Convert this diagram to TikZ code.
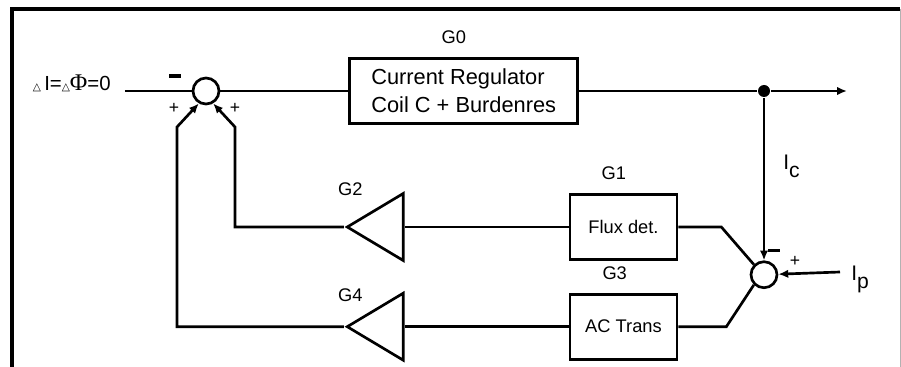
\documentclass[tikz,border=0pt]{standalone}
\usepackage{fontspec}
\setmainfont{Liberation Sans}
\newfontfamily\symfont{DejaVu Sans}
\newfontfamily\phifont{Liberation Serif}
\usetikzlibrary{positioning,shapes.geometric,arrows.meta,calc}

\newcommand{\smalltri}{{\symfont\fontsize{7.5}{7.5}\selectfont △}}
\newcommand{\idx}[1]{\raisebox{-0.38em}{#1}}

\begin{document}
\begin{tikzpicture}[
  x=0.025cm, y=-0.025cm, line width=1.9pt,
  blk/.style={rectangle, draw, inner sep=0pt, align=center,
              font=\fontsize{13}{15}\selectfont},
  sumnode/.style={circle, draw, minimum size=0.65cm, inner sep=0pt},
  amp/.style={isosceles triangle, draw, shape border rotate=180,
              isosceles triangle stretches, minimum width=1.675cm,
              minimum height=1.4cm, inner sep=0pt},
  dot/.style={circle, fill, minimum size=0.3cm, inner sep=0pt},
  glbl/.style={inner sep=0pt, font=\fontsize{13}{15}\selectfont},
  txt/.style={inner sep=0pt, font=\fontsize{15}{18}\selectfont},
  sgn/.style={inner sep=0pt, font=\fontsize{12.5}{14}\selectfont},
  neg/.style={fill, minimum width=0.28cm, minimum height=0.08cm, inner sep=0pt},
  arr/.style={-{Latex[length=7pt,width=6pt]}}
]
\useasboundingbox (0,0) rectangle (901,367);
% frame
\draw[line width=2.2pt] (12,367) -- (12,9) -- (900,9);
\draw[line width=0.6pt, gray!60] (900,9) -- (900,367);

% forward path
\node[sumnode] (sum1) at (206,91) {};
\node[inner sep=0pt, anchor=base east, font=\fontsize{14.5}{16}\selectfont] (inp) at (112,91)
  {\smalltri\,I=\smalltri{\phifont\fontsize{17}{17}\selectfont Φ}=0};
\coordinate (inend) at ([xshift=0.32cm]inp.base east);
\node[blk, right=3.2cm of sum1, minimum width=5.7cm, minimum height=1.625cm,
      align=left, font=\fontsize{15.5}{20}\selectfont,
      label={[glbl, xshift=-0.25cm, label distance=8.5pt]above:G0}] (g0)
  {Current Regulator\\Coil C + Burdenres};
\node[dot] (split) at (764,91) {};
\coordinate (out) at (847,91);

\draw (inend) -- (sum1);
\draw (sum1) -- (g0);
\draw (g0) -- (split);
\draw[arr] (split) -- (out);

% measuring loop
\node[sumnode, below=4.05cm of split] (sum2) {};
\draw[arr] (split) -- node[txt, pos=0.42, right=0.45cm] {I\idx{c}} (sum2);
\coordinate (ipin) at (840,272);
\node[txt, anchor=base west] (ip) at (850,280) {I\idx{p}};
\draw[arr] (ipin) -- (sum2);

\node[blk, minimum width=2.675cm, minimum height=1.625cm,
      label={[glbl, xshift=-0.24cm, label distance=8.5pt]above:G1}] (flux)
  at (623.5,227) {Flux det.};
\node[blk, below=0.8cm of flux, minimum width=2.675cm, minimum height=1.625cm,
      label={[glbl, xshift=-0.22cm, label distance=8.5pt]above:G3}] (ac) {AC Trans};

\node[amp, left=4.1cm of flux,
      label={[glbl, xshift=-0.85cm, label distance=4.5pt]above:G2}] (amp2) {};
\node[amp, left=4.1cm of ac,
      label={[glbl, xshift=-0.85cm, label distance=0pt]above:G4}] (amp4) {};

\draw (flux.east) -- ++(43,0) -- (sum2.135);
\draw (ac.east) -- ++(48,0) -- (sum2.225);
\draw (flux) -- (amp2.lower side);
\draw (ac) -- (amp4.lower side);

% feedback to first summer
\coordinate (k2) at (235,127);
\coordinate (k4) at (177,127);
\draw[arr] (amp2.apex) -| (k2) -- (sum1.300);
\draw[arr] (amp4.apex) -| (k4) -- (sum1.240);

% signs
\node[neg] (m1) at ([shift={(-31,-15)}]sum1) {};
\node[sgn] (p1) at ([shift={(-32,17)}]sum1) {+};
\node[sgn] (p2) at ([shift={(29,17)}]sum1) {+};
\node[neg] (m2) at ([shift={(10,-24)}]sum2) {};
\node[sgn] (p3) at ([shift={(31,-13)}]sum2) {+};
\end{tikzpicture}
\end{document}
